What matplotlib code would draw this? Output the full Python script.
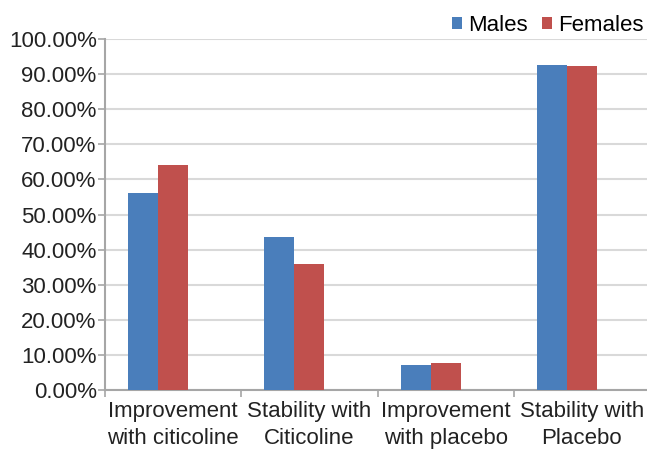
import numpy as np
import matplotlib.pyplot as plt
from matplotlib.ticker import FixedLocator, NullFormatter

plt.rcParams['font.family'] = ['Liberation Sans', 'DejaVu Sans']

categories = ['Improvement\nwith citicoline', 'Stability with\nCiticoline',
              'Improvement\nwith placebo', 'Stability with\nPlacebo']
males = [56.1, 43.6, 7.1, 92.6]
females = [64.1, 35.9, 7.7, 92.3]
yticks = [0, 10, 20, 30, 40, 50, 60, 70, 80, 90, 100]

blue = '#4A7EBB'
red = '#C0504D'
grid_col = '#D9D9D9'
axis_col = '#A6A6A6'
txt_col = '#222222'
fs = 16

fig = plt.figure(figsize=(6.47, 4.54), dpi=100)
ax = fig.add_axes([0.1623, 0.141, 0.8377, 0.773])

x = np.arange(len(categories))
w = 0.22
ax.bar(x - w, males, width=w, color=blue, label='Males', zorder=3)
ax.bar(x, females, width=w, color=red, label='Females', zorder=3)

ax.set_xlim(-0.5, 3.478)
ax.set_ylim(0, 100)
ax.set_yticks(yticks)
ax.set_yticklabels(['%.2f%%' % v for v in yticks], fontsize=fs, color=txt_col)
ax.yaxis.grid(True, color=grid_col, linewidth=1.5, zorder=0)
ax.set_axisbelow(True)

# category labels centered, ticks on boundaries
ax.set_xticks(x)
ax.set_xticklabels(categories, fontsize=fs, color=txt_col, linespacing=1.4)
ax.tick_params(axis='x', length=0, pad=8)
ax.xaxis.set_minor_locator(FixedLocator([-0.5, 0.5, 1.5, 2.5]))
ax.xaxis.set_minor_formatter(NullFormatter())
ax.tick_params(axis='x', which='minor', length=5, width=1.2, color=axis_col)
ax.tick_params(axis='y', length=5, width=1.2, color=axis_col, pad=1)

for s in ['top', 'right']:
    ax.spines[s].set_visible(False)
for s in ['left', 'bottom']:
    ax.spines[s].set_color(axis_col)
    ax.spines[s].set_linewidth(1.5)

ax.legend(loc='lower right', bbox_to_anchor=(1.0, 1.0), ncol=2, frameon=False,
          fontsize=fs, handlelength=0.45, handleheight=0.45, handletextpad=0.3,
          columnspacing=0.6, borderaxespad=0.0, borderpad=0.15)

fig.savefig('out.png', dpi=100)
